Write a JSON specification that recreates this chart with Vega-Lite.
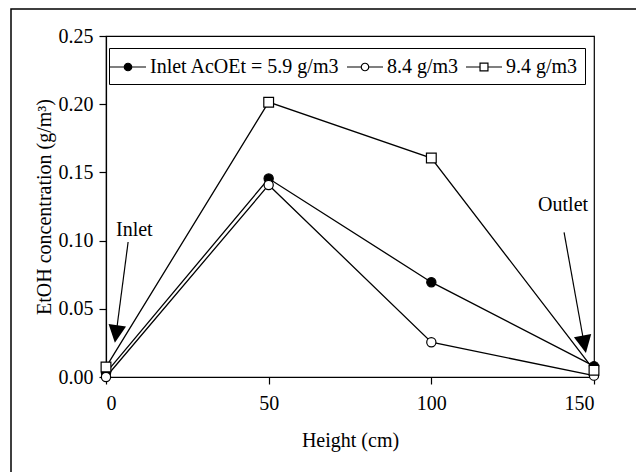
{
  "$schema": "https://vega.github.io/schema/vega-lite/v6.json",
  "autosize": {"type": "none"},
  "width": 488,
  "height": 341,
  "padding": {"left": 106, "top": 36, "right": 42, "bottom": 95},
  "background": "white",
  "config": {
    "view": {"stroke": "black", "strokeWidth": 1.2},
    "font": "Liberation Serif",
    "axis": {
      "domainColor": "black", "tickColor": "black", "labelColor": "black", "titleColor": "black",
      "grid": false, "labelFont": "Liberation Serif", "titleFont": "Liberation Serif",
      "labelFontSize": 20, "titleFontSize": 20, "titleFontWeight": "normal",
      "tickSize": 7, "domainWidth": 1.2, "tickWidth": 1.2
    },
    "legend": {
      "orient": "none", "legendX": 3, "legendY": 12, "direction": "horizontal",
      "strokeColor": "black", "padding": 7, "labelLimit": 0,
      "labelFont": "Liberation Serif", "labelFontSize": 20, "labelColor": "black",
      "symbolSize": 484, "symbolStrokeColor": "black", "symbolStrokeWidth": 1.2,
      "columnPadding": 4, "labelOffset": 10
    }
  },
  "datasets": {
    "series": [
      {"series": "Inlet AcOEt = 5.9 g/m3", "height": 0, "etoh": 0.003},
      {"series": "Inlet AcOEt = 5.9 g/m3", "height": 50, "etoh": 0.1455},
      {"series": "Inlet AcOEt = 5.9 g/m3", "height": 100, "etoh": 0.0695},
      {"series": "Inlet AcOEt = 5.9 g/m3", "height": 150, "etoh": 0.008},
      {"series": "8.4 g/m3", "height": 0, "etoh": 0.0},
      {"series": "8.4 g/m3", "height": 50, "etoh": 0.1408},
      {"series": "8.4 g/m3", "height": 100, "etoh": 0.0255},
      {"series": "8.4 g/m3", "height": 150, "etoh": 0.001},
      {"series": "9.4 g/m3", "height": 0, "etoh": 0.0073},
      {"series": "9.4 g/m3", "height": 50, "etoh": 0.2015},
      {"series": "9.4 g/m3", "height": 100, "etoh": 0.1605},
      {"series": "9.4 g/m3", "height": 150, "etoh": 0.005}
    ],
    "notes": [
      {"label": "Inlet", "x": 8.7, "y": 0.1077},
      {"label": "Outlet", "x": 140.5, "y": 0.126}
    ],
    "arrows": [
      {"name": "Inlet", "x": 6.8, "y": 0.099, "x2": 3.1, "y2": 0.0315},
      {"name": "Outlet", "x": 140.8, "y": 0.106, "x2": 147.0, "y2": 0.024}
    ]
  },
  "layer": [
    {
      "data": {"values": [{}]},
      "mark": {"type": "rect", "fillOpacity": 0, "stroke": "black", "strokeWidth": 1.5, "clip": false},
      "encoding": {
        "x": {"datum": -29.2, "type": "quantitative"},
        "x2": {"datum": 220},
        "y": {"datum": 0.2698, "type": "quantitative"},
        "y2": {"datum": -0.2}
      }
    },
    {
      "data": {"name": "series"},
      "mark": {"type": "line", "color": "black", "strokeWidth": 1.3},
      "encoding": {
        "x": {
          "field": "height", "type": "quantitative",
          "scale": {"domain": [0, 150], "nice": false},
          "axis": {"values": [0, 50, 100, 150], "title": "Height (cm)", "labelPadding": 9, "titlePadding": 17}
        },
        "y": {
          "field": "etoh", "type": "quantitative",
          "scale": {"domain": [0, 0.25], "nice": false},
          "axis": {"values": [0, 0.05, 0.1, 0.15, 0.2, 0.25], "format": ".2f", "title": "EtOH concentration (g/m³)", "labelPadding": 6, "titlePadding": 4}
        },
        "detail": {"field": "series"}
      }
    },
    {
      "data": {"name": "series"},
      "transform": [{"filter": "datum.series !== '9.4 g/m3'"}],
      "mark": {"type": "point", "shape": "circle", "filled": true, "stroke": "black", "strokeWidth": 1.2, "size": 85, "opacity": 1},
      "encoding": {
        "x": {"field": "height", "type": "quantitative"},
        "y": {"field": "etoh", "type": "quantitative"},
        "fill": {
          "field": "series", "type": "nominal",
          "scale": {"domain": ["Inlet AcOEt = 5.9 g/m3", "8.4 g/m3", "9.4 g/m3"], "range": ["black", "white", "white"]},
          "legend": {
            "title": null,
            "symbolType": {"expr": "datum.index === 2 ? 'M-1.64,0H-0.36M0.36,0H1.64M-0.36,-0.36H0.36V0.36H-0.36Z' : 'M-1.64,0H-0.34M0.34,0H1.64M-0.34,0A0.34,0.34,0,1,1,0.34,0A0.34,0.34,0,1,1,-0.34,0Z'"}
          }
        }
      }
    },
    {
      "data": {"name": "series"},
      "transform": [{"filter": "datum.series === '9.4 g/m3'"}],
      "mark": {"type": "point", "shape": "square", "filled": true, "stroke": "black", "strokeWidth": 1.2, "size": 95, "opacity": 1},
      "encoding": {
        "x": {"field": "height", "type": "quantitative"},
        "y": {"field": "etoh", "type": "quantitative"},
        "fill": {
          "field": "series", "type": "nominal",
          "legend": {
            "title": null,
            "symbolType": {"expr": "datum.index === 2 ? 'M-1.64,0H-0.36M0.36,0H1.64M-0.36,-0.36H0.36V0.36H-0.36Z' : 'M-1.64,0H-0.34M0.34,0H1.64M-0.34,0A0.34,0.34,0,1,1,0.34,0A0.34,0.34,0,1,1,-0.34,0Z'"}
          }
        }
      }
    },
    {
      "data": {"name": "notes"},
      "mark": {"type": "text", "font": "Liberation Serif", "fontSize": 20, "color": "black", "align": "center", "baseline": "middle"},
      "encoding": {
        "x": {"field": "x", "type": "quantitative"},
        "y": {"field": "y", "type": "quantitative"},
        "text": {"field": "label"}
      }
    },
    {
      "data": {"name": "arrows"},
      "mark": {"type": "rule", "color": "black", "strokeWidth": 1.2},
      "encoding": {
        "x": {"field": "x", "type": "quantitative"},
        "y": {"field": "y", "type": "quantitative"},
        "x2": {"field": "x2"},
        "y2": {"field": "y2"}
      }
    },
    {
      "data": {"name": "arrows"},
      "transform": [{"filter": "datum.name === 'Inlet'"}],
      "mark": {"type": "point", "shape": "M-1,-1L1,-1L0,1Z", "filled": true, "color": "black", "size": 310, "angle": 8, "opacity": 1},
      "encoding": {
        "x": {"field": "x2", "type": "quantitative"},
        "y": {"field": "y2", "type": "quantitative"}
      }
    },
    {
      "data": {"name": "arrows"},
      "transform": [{"filter": "datum.name === 'Outlet'"}],
      "mark": {"type": "point", "shape": "M-1,-1L1,-1L0,1Z", "filled": true, "color": "black", "size": 310, "angle": -11, "opacity": 1},
      "encoding": {
        "x": {"field": "x2", "type": "quantitative"},
        "y": {"field": "y2", "type": "quantitative"}
      }
    }
  ]
}
